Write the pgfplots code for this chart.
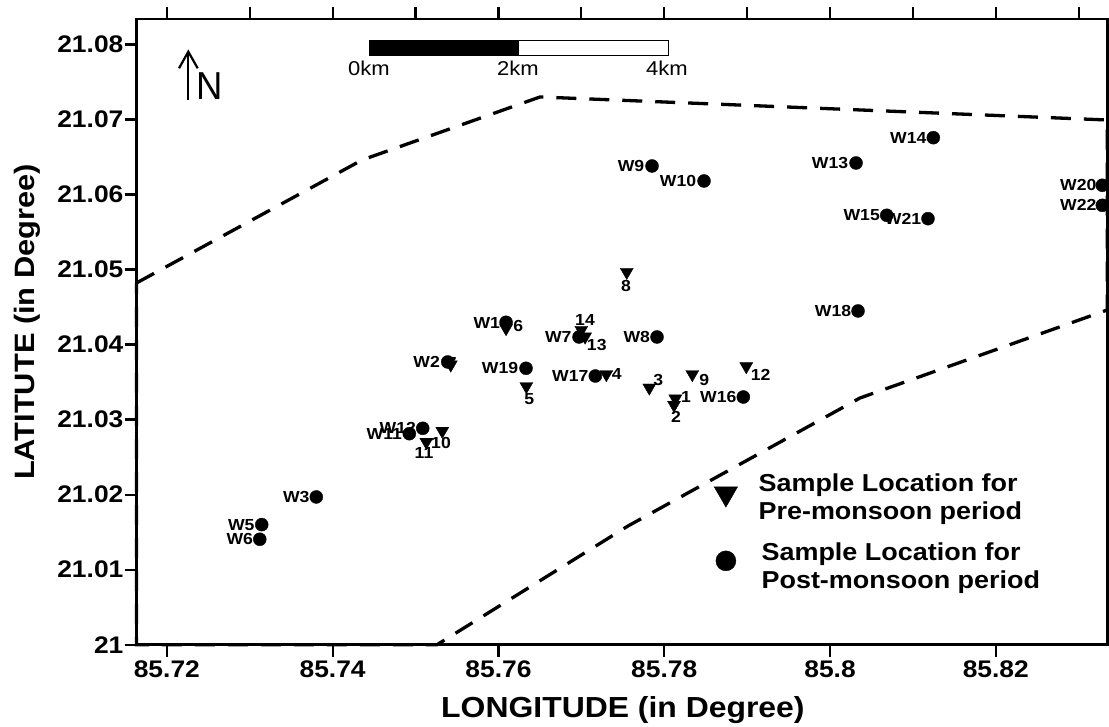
\documentclass[border=0pt]{standalone}
\usepackage{fontspec}
\setmainfont{Liberation Sans}[FakeStretch=1.1]
\usepackage{pgfplots}
\usepackage{pgfplotstable}
\pgfplotsset{compat=1.18}
\pgfplotstableread{
x y lab dx dy
85.76092 21.04297 W1 -19.3 -1
85.75388 21.03768 W2 -21 0
85.73803 21.01969 W3 -20 0
85.73145 21.01600 W5 -20.5 0
85.73121 21.01405 W6 -20 0
85.76972 21.04101 W7 -20.7 0
85.77913 21.04101 W8 -20.3 0
85.77853 21.06380 W9 -21 0
85.78480 21.06180 W10 -26 0
85.74925 21.02812 W11 -25 0
85.75087 21.02884 W12 -25 0.5
85.80314 21.06420 W13 -26 0
85.81246 21.06757 W14 -25 0
85.80684 21.05723 W15 -25 0
85.78954 21.03301 W16 -25 0
85.77169 21.03581 W17 -25 0
85.80338 21.04448 W18 -25 0
85.76333 21.03684 W19 -26 0
85.83285 21.06123 W20 -24 0
85.81182 21.05678 W21 -25 0
85.83285 21.05856 W22 -24 0
}\posttab
\pgfplotstableread{
x y lab dx dy
85.78134 21.03279 1 10.7 1.4
85.78118 21.03195 2 2 -11.7
85.77820 21.03425 3 9 7.7
85.77302 21.03604 4 10.4 0
85.76337 21.03444 5 3 -12.7
85.76092 21.04217 6 12.3 2.6
85.75425 21.03732 7 1 2
85.77548 21.04967 8 -0.7 -14
85.78339 21.03604 9 12 -5.7
85.75323 21.02848 10 -1.3 -12.3
85.75130 21.02702 11 -2.3 -11.3
85.78990 21.03710 12 14.4 -9
85.77045 21.04105 13 11.7 -8.6
85.77000 21.04194 14 3.7 10
}\pretab
\pgfplotstableread{
x y
85.71634 21.04821
85.74355 21.06460
85.76502 21.07300
85.83345 21.06993
85.83345 21.04461
85.80362 21.03288
85.77563 21.01582
85.75260 21.00000
85.71634 21.00000
85.71634 21.04821
}\boundarytab
\begin{document}
\begin{tikzpicture}[x=1pt,y=1pt]
\useasboundingbox (0,0) rectangle (1109,727);
\pgfplotsset{
  base/.style={
    at={(136.5pt,82.3pt)}, anchor=south west,
    scale only axis, width=970.8pt, height=625.4pt,
    xmin=85.71634, xmax=85.83345, ymin=21, ymax=21.08335,
    axis line style={line width=2.4pt},
    tick style={line width=2.2pt,black},
    tick align=outside,
    major tick length=12pt,
    clip=false,
  },
  lab/.style={
    nodes near coords,
    point meta=explicit symbolic,
    visualization depends on={\thisrow{dx} \as \dxv},
    visualization depends on={\thisrow{dy} \as \dyv},
    nodes near coords style={anchor=center,xshift=\dxv pt,yshift=\dyv pt,
      font=\fontsize{16}{18}\selectfont\bfseries,inner sep=0pt},
  },
}
\begin{axis}[base,
  xtick pos=upper, ytick=\empty,
  xtick={85.72,85.73,85.74,85.75,85.76,85.77,85.78,85.79,85.80,85.81,85.82,85.83},
  xticklabels={},
]
\end{axis}
\begin{axis}[base,
  xtick pos=lower, ytick pos=left,
  xtick={85.72,85.74,85.76,85.78,85.80,85.82},
  xticklabels={85.72,85.74,85.76,85.78,85.8,85.82},
  ytick={21,21.01,21.02,21.03,21.04,21.05,21.06,21.07,21.08},
  yticklabels={21,21.01,21.02,21.03,21.04,21.05,21.06,21.07,21.08},
  tick label style={font=\fontsize{24}{28}\selectfont\bfseries},
  xticklabel style={yshift=-1pt},
  yticklabel style={inner xsep=1pt},
  xlabel={LONGITUDE (in Degree)},
  ylabel={LATITUTE (in Degree)},
  xlabel style={font=\fontsize{29}{33}\selectfont\bfseries,at={(axis description cs:0.5,0)},anchor=center,yshift=-65.5pt,xshift=1pt},
  ylabel style={font=\fontsize{28}{32}\selectfont\bfseries,at={(axis description cs:0,0.5)},anchor=center,yshift=109pt,xshift=10pt},
  legend style={draw=none,fill=none,at={(574.5pt,50pt)},anchor=south west,
    cells={align=left,anchor=west},
    font=\fontsize{24.5}{28}\selectfont\bfseries,
    row sep=18pt},
]
\addplot[only marks,mark=triangle*,mark size=7.5pt,black,lab,
  mark options={rotate=180,fill=black,draw=black},
  legend image post style={mark size=13.5pt,yshift=4pt}]
  table[x=x,y=y,meta=lab] {\pretab};
\addlegendentry{\hspace*{19pt}Sample Location for\\\hspace*{19pt}Pre-monsoon period}
\addplot[only marks,mark=*,mark size=6.5pt,black,lab,
  mark options={fill=black,draw=black},
  legend image post style={mark size=10pt,yshift=6pt}]
  table[x=x,y=y,meta=lab] {\posttab};
\addlegendentry{\hspace*{22pt}Sample Location for\\\hspace*{22pt}Post-monsoon period}
\addplot[black,line width=3.3pt,dash pattern=on 20pt off 13pt,forget plot]
  table[x=x,y=y] {\boundarytab};
\end{axis}
% north arrow
\draw[line width=2.2pt] (188.3,627) -- (188.3,675.3);
\draw[line width=2.2pt] (179,658.7) -- (188.3,675.3) -- (197.7,658.7);
\node[font=\fontsize{39}{42}\selectfont,xscale=0.85,anchor=base west,inner sep=0pt] at (196,627) {N};
% scale bar
\fill[black] (369.3,671.3) rectangle (519,686.7);
\draw[line width=0.8pt] (369.3,671.3) rectangle (668,686.7);
\foreach \p/\t in {369/0km,518/2km,667/4km}
  \node[font=\fontsize{20}{22}\selectfont,anchor=center,inner sep=0pt] at (\p,658.7) {\t};
\end{tikzpicture}
\end{document}
